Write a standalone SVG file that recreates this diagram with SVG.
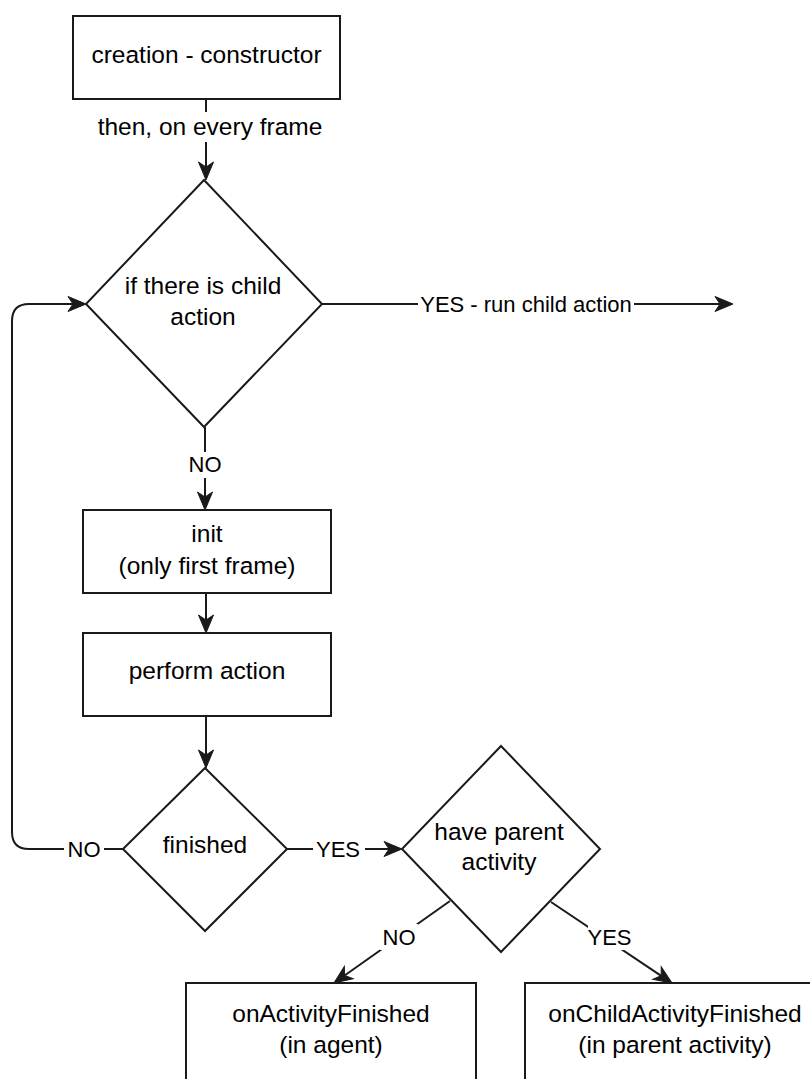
<svg xmlns="http://www.w3.org/2000/svg" width="810" height="1079" viewBox="0 0 810 1079">
  <style>
    .shape { fill: #ffffff; stroke: #1a1a1a; stroke-width: 2; }
    .edge { fill: none; stroke: #1a1a1a; stroke-width: 2; }
    .arrow { marker-end: url(#head); }
    .node-text { font-family: "Liberation Sans", Arial, sans-serif; font-size: 24.5px; fill: #000; text-anchor: middle; }
    .edge-text { font-family: "Liberation Sans", Arial, sans-serif; font-size: 22px; fill: #000; text-anchor: middle; }
    .label-bg { fill: #ffffff; stroke: none; }
  </style>
  <defs>
    <marker id="head" markerUnits="userSpaceOnUse" markerWidth="20" markerHeight="18" refX="5" refY="0" viewBox="0 -9 20 18" orient="auto" overflow="visible">
      <path d="M0,-7.5 L18,0 L0,7.5 L5,0 Z" fill="#1a1a1a" stroke="#1a1a1a" stroke-width="1" stroke-linejoin="miter"/>
    </marker>
  </defs>

  <rect width="810" height="1079" fill="#ffffff"/>

  <!-- connectors -->
  <g id="connectors">
    <!-- creation -> decision -->
    <line class="edge arrow" x1="206" y1="99" x2="206" y2="167"/>
    <rect class="label-bg" x="96" y="112" width="230" height="30"/>
    <text class="node-text" x="210" y="135">then, on every frame</text>

    <!-- child action yes -->
    <line class="edge arrow" x1="322" y1="304" x2="720" y2="304"/>
    <rect class="label-bg" x="418" y="290" width="216" height="28"/>
    <text class="edge-text" x="526" y="312">YES - run child action</text>

    <!-- child action no -->
    <line class="edge arrow" x1="205" y1="427" x2="205" y2="497"/>
    <rect class="label-bg" x="189" y="452" width="32" height="26"/>
    <text class="edge-text" x="205" y="472">NO</text>

    <!-- init -> perform -->
    <line class="edge arrow" x1="206" y1="593" x2="206" y2="620"/>

    <!-- perform -> finished -->
    <line class="edge arrow" x1="206" y1="716" x2="206" y2="755"/>

    <!-- finished no: loop back -->
    <path class="edge arrow" d="M123,849 H29 Q12,849 12,832 V321 Q12,304 29,304 H73"/>
    <rect class="label-bg" x="64" y="836" width="40" height="26"/>
    <text class="edge-text" x="84" y="857">NO</text>

    <!-- finished yes -->
    <line class="edge arrow" x1="287" y1="849" x2="389" y2="849"/>
    <rect class="label-bg" x="313" y="836" width="52" height="26"/>
    <text class="edge-text" x="338" y="857">YES</text>
    <line class="edge" x1="365" y1="849" x2="372" y2="849"/>

    <!-- have parent: no -->
    <line class="edge arrow" x1="450" y1="901" x2="344.6" y2="975.5"/>
    <rect class="label-bg" x="380" y="924" width="38" height="26"/>
    <text class="edge-text" x="399" y="945">NO</text>

    <!-- have parent: yes -->
    <line class="edge arrow" x1="551" y1="902" x2="661.2" y2="975.8"/>
    <rect class="label-bg" x="588" y="924" width="43" height="26"/>
    <text class="edge-text" x="609.5" y="945">YES</text>
  </g>

  <!-- nodes -->
  <g id="creation">
    <rect class="shape" x="73" y="16" width="267" height="83"/>
    <text class="node-text" x="206.5" y="63">creation - constructor</text>
  </g>

  <g id="child-check">
    <polygon class="shape" points="204,180 322,304 204,427 86,304"/>
    <text class="node-text" x="203" y="294">if there is child</text>
    <text class="node-text" x="203" y="325">action</text>
  </g>

  <g id="init">
    <rect class="shape" x="83" y="510" width="248" height="83"/>
    <text class="node-text" x="207" y="542">init</text>
    <text class="node-text" x="207" y="574">(only first frame)</text>
  </g>

  <g id="perform">
    <rect class="shape" x="83" y="633" width="248" height="83"/>
    <text class="node-text" x="207" y="679">perform action</text>
  </g>

  <g id="finished">
    <polygon class="shape" points="205,768 287,849 205,931 123,849"/>
    <text class="node-text" x="205" y="853">finished</text>
  </g>

  <g id="have-parent">
    <polygon class="shape" points="501,746 600,849 501,952 402,849"/>
    <text class="node-text" x="499" y="840">have parent</text>
    <text class="node-text" x="499" y="870">activity</text>
  </g>

  <g id="on-activity-finished">
    <rect class="shape" x="186" y="983" width="290" height="120"/>
    <text class="node-text" x="331" y="1022">onActivityFinished</text>
    <text class="node-text" x="331" y="1053">(in agent)</text>
  </g>

  <g id="on-child-activity-finished">
    <rect class="shape" x="525" y="983" width="297" height="120"/>
    <text class="node-text" x="675" y="1022">onChildActivityFinished</text>
    <text class="node-text" x="675" y="1053">(in parent activity)</text>
  </g>
</svg>
